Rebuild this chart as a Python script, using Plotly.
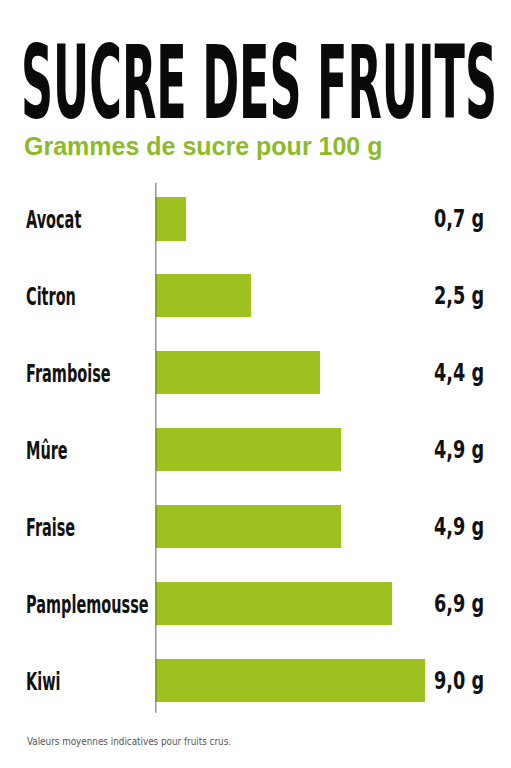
import json
import plotly.graph_objects as go

fruits = ["Avocat", "Citron", "Framboise", "Mûre", "Fraise", "Pamplemousse", "Kiwi"]
sugar_g = [0.7, 2.5, 4.4, 4.9, 4.9, 6.9, 9.0]          # values printed on the right
bar_lengths = [1.03, 3.2, 5.5, 6.2, 6.2, 7.9, 9.0]      # bar lengths as drawn in the picture
value_labels = [f"{v:.1f}".replace(".", ",") + " g" for v in sugar_g]

TITLE = "SUCRE DES FRUITS"
SUBTITLE = "Grammes de sucre pour 100 g"
NOTE = "Valeurs moyennes indicatives pour fruits crus."

GREEN = "#9DC11F"
SUB_GREEN = "#8DBA2B"
COND = "DejaVu Sans Condensed, Liberation Sans Narrow, Arial Narrow, sans-serif"

W, H = 511, 768
rows = list(range(len(fruits)))

fig = go.Figure()
fig.add_trace(go.Bar(
    x=bar_lengths, y=rows, orientation="h",
    marker=dict(color=GREEN, line=dict(width=0)),
    width=0.56, hoverinfo="skip", showlegend=False,
))

# vertical baseline
fig.add_shape(type="line", xref="x", yref="y", x0=0, x1=0, y0=-0.47, y1=6.42,
              line=dict(color="#2a2a2a", width=1.5), layer="above")

annotations = []
for i, (name, lab) in enumerate(zip(fruits, value_labels)):
    annotations.append(dict(xref="paper", yref="y", x=24 / W, y=i, text=f"<b>{name}</b>",
                            xanchor="left", yanchor="middle", showarrow=False,
                            font=dict(family=COND, size=23, color="#111111")))
    annotations.append(dict(xref="paper", yref="y", x=486 / W, y=i, text=f"<b>{lab}</b>",
                            xanchor="right", yanchor="middle", showarrow=False,
                            font=dict(family=COND, size=24, color="#111111")))

annotations.append(dict(xref="paper", yref="paper", x=259 / W, y=1 - 83 / H, text=f"<b>{TITLE}</b>",
                        xanchor="center", yanchor="middle", showarrow=False,
                        font=dict(family=COND, size=49.5, color="#0a0a0a")))
annotations.append(dict(xref="paper", yref="paper", x=22 / W, y=1 - 146 / H, text=f"<b>{SUBTITLE}</b>",
                        xanchor="left", yanchor="middle", showarrow=False,
                        font=dict(family="Liberation Sans, Arial, sans-serif", size=25, color=SUB_GREEN)))
annotations.append(dict(xref="paper", yref="paper", x=25 / W, y=1 - 741 / H, text=NOTE,
                        xanchor="left", yanchor="middle", showarrow=False,
                        font=dict(family=COND, size=9.8, color="#555555")))

fig.update_layout(
    width=W, height=H,
    margin=dict(l=0, r=0, t=0, b=0),
    paper_bgcolor="white", plot_bgcolor="white",
    xaxis=dict(range=[0, 9], domain=[155.5 / W, 425 / W], visible=False, fixedrange=True),
    yaxis=dict(range=[6.5, -0.5], domain=[(H - 719) / H, (H - 180.5) / H], visible=False, fixedrange=True),
    annotations=annotations,
    bargap=0,
)

# condensed-type styling (scale glyphs to imitate a condensed display face)
styles = {TITLE: ["center", "scale(1, 2.05)"]}
for name in fruits:
    styles[name] = ["left center", "scale(0.7, 1.1)"]
for lab in value_labels:
    styles[lab] = ["right center", "scale(0.82, 1.0)"]

post = """
var gd = document.getElementById('{plot_id}');
var st = %s;
gd.querySelectorAll('text.annotation-text').forEach(function(t){
  var s = st[t.textContent];
  if (s) {
    t.style.transformBox = 'fill-box';
    t.style.transformOrigin = s[0];
    t.style.transform = s[1];
  }
});
""" % json.dumps(styles)

fig.write_html("out.html", config={"displayModeBar": False, "staticPlot": True}, post_script=post)
